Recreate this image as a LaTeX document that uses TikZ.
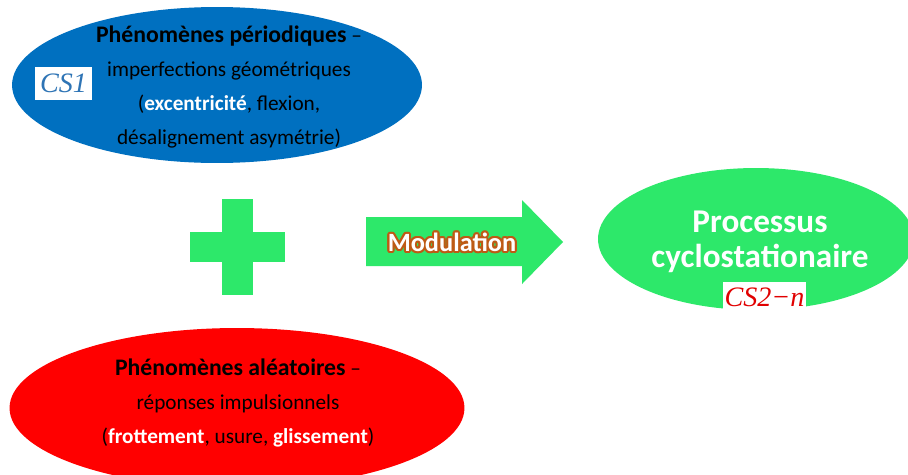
\documentclass[tikz,border=0pt]{standalone}
\usepackage{fontspec}
\setmainfont{Carlito}
\newfontfamily\csfont{Liberation Serif}
\usetikzlibrary{shapes.geometric, positioning}
\definecolor{periodblue}{RGB}{0,112,192}
\definecolor{randomred}{RGB}{255,0,0}
\definecolor{cyclogreen}{RGB}{45,232,106}
\definecolor{csblue}{RGB}{46,116,181}
\definecolor{csred}{RGB}{225,0,0}
\definecolor{glowbrown}{RGB}{190,90,20}
\tikzset{
  blob/.style={ellipse, inner sep=0pt}
}
\tikzset{
  bodytext/.style={align=center, inner sep=0pt, font=\fontsize{12.1}{19.5}\selectfont}
}
\tikzset{
  csbox/.style={fill=white, inner sep=0pt, font=\fontsize{16}{16}\selectfont\csfont\itshape}
}
\tikzset{
  modtext/.style={inner sep=0pt, font=\fontsize{15}{15}\selectfont\bfseries}
}
\newcommand{\wbold}[1]{\textcolor{white}{\textbf{#1}}}
\newcommand{\headline}[1]{{\fontsize{13.5}{13.5}\selectfont\textbf{#1}}}

\begin{document}
\begin{tikzpicture}[x=0.02cm, y=-0.02cm]
      \clip (0,0) rectangle (908,474);
      \fill[white] (0,0) rectangle (908,474);
      % periodic part
      \node[blob, fill=periodblue, minimum width=8.2cm, minimum height=3.12cm] (perio) at (217,85) {};
      \node[bodytext] (periotext) at (229,87) {\headline{Phénomènes périodiques} --\\
        imperfections géométriques\\
        (\wbold{excentricité}, flexion,\\
        désalignement asymétrie)};
      \node[csbox, text=csblue, minimum width=1.14cm, minimum height=0.66cm] (cs1) at (63.5,83.5) {CS1};
      % random part
      \node[blob, fill=randomred, minimum width=9.1cm, minimum height=3.2cm] (rand) at (237,408) {};
      \node[bodytext] (randtext) at (238,403) {\headline{Phénomènes aléatoires} --\\
        réponses impulsionnels\\
        (\wbold{frottement}, usure, \wbold{glissement})};
      % plus
      \fill[cyclogreen] (222,199) rectangle (253,295);
      \fill[cyclogreen] (190,232) rectangle (285,262);
      % modulation arrow
      \fill[cyclogreen] (366,217) -- (522,217) -- (522,200) -- (563,242)
        -- (522,284) -- (522,266) -- (366,266) -- cycle;
      \foreach \a in {0,30,...,330}
        \node[modtext, text=glowbrown, xshift={1.2pt*cos(\a)}, yshift={1.2pt*sin(\a)}] (glow\a) at (452,242) {Modulation};
      \node[modtext, text=white] (modul) at (452,242) {Modulation};
      % result
      \node[blob, fill=cyclogreen, minimum width=6.32cm, minimum height=2.84cm] (cyclo) at (756,239) {};
      \node[bodytext, text=white, font=\fontsize{18.9}{20}\selectfont\bfseries] (cyclotext) at (760,242) {Processus\\ cyclostationaire};
      \node[csbox, text=csred, minimum width=1.66cm, minimum height=0.62cm] (cs2) at (764.5,297.5) {CS2−n};
\end{tikzpicture}
\end{document}
